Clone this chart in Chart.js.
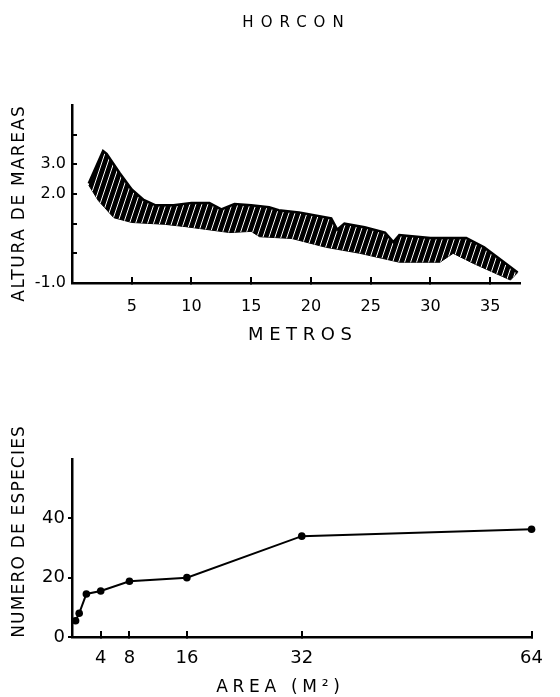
<!DOCTYPE html>
<html>
<head>
<meta charset="utf-8">
<script src="https://cdn.jsdelivr.net/npm/chart.js@4.4.1/dist/chart.umd.min.js"></script>
<style>
  html, body { margin: 0; padding: 0; background: #fff; }
  #wrap { position: relative; width: 560px; height: 697px; }
  #wrap canvas { position: absolute; left: 0; }
  #chart-tide { top: 0; }
  #chart-species { top: 360px; }
</style>
</head>
<body>
<div id="wrap">
  <canvas id="chart-tide" width="560" height="360"></canvas>
  <canvas id="chart-species" width="560" height="337"></canvas>
</div>
<script>
// top chart: tide band (metres along transect vs height)
var tideUpperX = [1.4, 2.6, 2.9, 4, 5, 6, 7, 8.5, 10, 11.5, 12.5, 13.6, 15, 16.5, 17.3, 19, 21.7, 22.2, 22.8, 24.5, 26.2, 26.9, 27.4, 30, 33, 34.5, 36, 37.3];
var tideUpperY = [2.35, 3.45, 3.35, 2.7, 2.15, 1.8, 1.62, 1.62, 1.7, 1.7, 1.48, 1.66, 1.62, 1.55, 1.45, 1.38, 1.18, 0.8, 1.0, 0.88, 0.7, 0.38, 0.62, 0.52, 0.52, 0.2, -0.25, -0.65];
var tideLowerX = [1.4, 2.2, 3.5, 5, 7.7, 9.5, 13.2, 15, 15.7, 18.4, 21.3, 24.1, 27.4, 30.8, 31.9, 33.6, 36.7, 37.3];
var tideLowerY = [2.3, 1.78, 1.2, 1.04, 0.98, 0.9, 0.7, 0.74, 0.56, 0.5, 0.2, 0.0, -0.3, -0.3, 0.0, -0.34, -0.9, -0.65];
var metreTicks = [5, 10, 15, 20, 25, 30, 35];
var heightTicks = [-1, 0, 1, 2, 3, 4];
var heightLabels = [-1, 2, 3];

// bottom chart: species-area curve
var areaValues = [0.5, 1, 2, 4, 8, 16, 32, 64];
var speciesCounts = [5.5, 8, 14.5, 15.5, 18.8, 20, 34, 36.3];
var areaTicks = [4, 8, 16, 32, 64];
var speciesTicks = [0, 20, 40];

function toPoints(xs, ys) {
    return xs.map(function (x, i) { return { x: x, y: ys[i] }; });
}

// black fill with thin white slanted streaks
function makeHatch() {
    var c = document.createElement('canvas');
    c.width = 6; c.height = 18;
    var g = c.getContext('2d');
    g.fillStyle = '#000';
    g.fillRect(0, 0, 6, 18);
    g.strokeStyle = '#fff';
    g.lineWidth = 1;
    for (var k = -1; k <= 1; k++) {
        g.beginPath();
        g.moveTo(k * 6, 18);
        g.lineTo(k * 6 + 6, 0);
        g.stroke();
    }
    return g.createPattern(c, 'repeat');
}

// draws spaced-out captions (titles, axis names)
function textLabels(items) {
    return {
        id: 'textLabels',
        afterDraw: function (chart) {
            var ctx = chart.ctx;
            items.forEach(function (it) {
                ctx.save();
                ctx.font = it.font;
                ctx.fillStyle = '#000';
                ctx.letterSpacing = it.spacing + 'px';
                ctx.textAlign = 'center';
                ctx.textBaseline = 'middle';
                ctx.translate(it.x, it.y);
                if (it.rotate) ctx.rotate(it.rotate);
                ctx.fillText(it.text, it.spacing / 2, 0);
                ctx.restore();
            });
        }
    };
}

var FONT = '"DejaVu Sans", sans-serif';

new Chart(document.getElementById('chart-tide'), {
    type: 'line',
    data: {
        datasets: [{
            data: toPoints(tideUpperX, tideUpperY),
            borderColor: '#000',
            borderWidth: 2.5,
            pointRadius: 0,
            tension: 0,
            fill: '+1',
            backgroundColor: makeHatch()
        }, {
            data: toPoints(tideLowerX, tideLowerY),
            borderColor: '#000',
            borderWidth: 1,
            pointRadius: 0,
            tension: 0,
            fill: false
        }]
    },
    options: {
        responsive: false,
        animation: false,
        layout: { padding: { left: 22, right: 40, top: 105, bottom: 37 } },
        plugins: { legend: { display: false }, tooltip: { enabled: false } },
        scales: {
            x: {
                type: 'linear',
                min: 0,
                max: 37.5,
                afterBuildTicks: function (s) { s.ticks = metreTicks.map(function (v) { return { value: v }; }); },
                afterFit: function (s) { s.height = 40; },
                grid: { drawOnChartArea: false, tickLength: -6, color: '#000', lineWidth: 2 },
                border: { color: '#000', width: 2.5 },
                ticks: { color: '#000', font: { size: 16, family: FONT }, padding: 20, maxRotation: 0, autoSkip: false }
            },
            y: {
                min: -1,
                max: 5,
                afterBuildTicks: function (s) { s.ticks = heightTicks.map(function (v) { return { value: v }; }); },
                afterFit: function (s) { s.width = 50; },
                grid: { drawOnChartArea: false, tickLength: -5, color: '#000', lineWidth: 2 },
                border: { color: '#000', width: 2.5 },
                ticks: {
                    color: '#000', font: { size: 16, family: FONT }, padding: 11, autoSkip: false,
                    callback: function (v) { return heightLabels.indexOf(v) >= 0 ? v.toFixed(1) : ''; }
                }
            }
        }
    },
    plugins: [textLabels([
        { text: 'HORCON', x: 293, y: 23, font: '15px ' + FONT, spacing: 7 },
        { text: 'ALTURA DE MAREAS', x: 20, y: 204, font: '17px ' + FONT, spacing: 1.7, rotate: -Math.PI / 2 },
        { text: 'METROS', x: 300, y: 335, font: '18px ' + FONT, spacing: 5.6 }
    ])]
});

new Chart(document.getElementById('chart-species'), {
    type: 'line',
    data: {
        datasets: [{
            data: toPoints(areaValues, speciesCounts),
            borderColor: '#000',
            borderWidth: 2,
            pointRadius: 3.8,
            pointBackgroundColor: '#000',
            pointBorderWidth: 0,
            tension: 0,
            fill: false,
            clip: false
        }]
    },
    options: {
        responsive: false,
        animation: false,
        layout: { padding: { left: 22, right: 11, top: 99, bottom: 20 } },
        plugins: { legend: { display: false }, tooltip: { enabled: false } },
        scales: {
            x: {
                type: 'linear',
                min: 0,
                max: 64,
                afterBuildTicks: function (s) { s.ticks = areaTicks.map(function (v) { return { value: v }; }); },
                afterFit: function (s) { s.height = 40; },
                grid: { drawOnChartArea: false, tickLength: -6, color: '#000', lineWidth: 2 },
                border: { color: '#000', width: 2.5 },
                ticks: { color: '#000', font: { size: 18, family: FONT }, padding: 17, maxRotation: 0, autoSkip: false }
            },
            y: {
                min: 0,
                max: 60,
                afterBuildTicks: function (s) { s.ticks = speciesTicks.map(function (v) { return { value: v }; }); },
                afterFit: function (s) { s.width = 50; },
                grid: { drawOnChartArea: false, tickLength: 4, color: '#000', lineWidth: 2 },
                border: { color: '#000', width: 2.5 },
                ticks: { color: '#000', font: { size: 18, family: FONT }, padding: 3, autoSkip: false }
            }
        }
    },
    plugins: [textLabels([
        { text: 'NUMERO DE ESPECIES', x: 20, y: 172, font: '17px ' + FONT, spacing: 1.2, rotate: -Math.PI / 2 },
        { text: 'AREA (M²)', x: 278, y: 328, font: '17px ' + FONT, spacing: 4.7 }
    ])]
});
</script>
</body>
</html>
